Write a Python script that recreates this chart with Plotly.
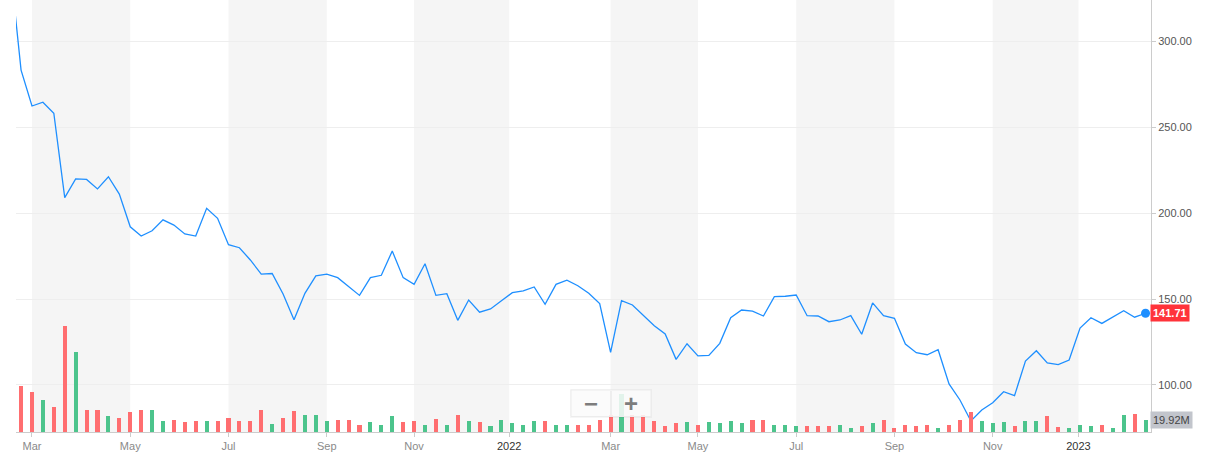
import pandas as pd
import plotly.graph_objects as go

# ---------------- data ----------------
first_week = "2021-02-15"          # weekly closes, Mondays
close_prices = [
    344.0,
    283.1, 262.2, 264.4, 258.0, 208.9, 219.8, 219.5, 214.0, 221.1, 211.0,
    192.0, 186.6, 189.7, 196.0, 193.0, 187.8, 186.6, 202.7, 196.9, 181.6,
    179.8, 172.7, 164.5, 164.8, 152.9, 138.0, 153.3, 163.4, 164.4, 162.4,
    157.2, 152.1, 162.4, 163.8, 177.9, 162.4, 158.5, 170.5, 152.1, 153.1,
    137.6, 149.4, 142.3, 144.2, 149.0, 153.7, 154.7, 157.0, 146.9, 158.5,
    160.9, 157.7, 153.3, 147.3, 119.0, 149.0, 146.5, 140.5, 134.5, 129.7,
    114.9, 124.0, 116.9, 117.2, 124.2, 139.1, 143.6, 143.0, 140.1, 151.4,
    151.6, 152.3, 140.3, 140.1, 136.8, 137.8, 140.3, 129.5, 147.7, 140.3,
    138.8, 123.8, 118.8, 117.6, 120.5, 100.6, 91.3, 79.1, 85.5, 89.7,
    96.1, 93.8, 113.9, 119.9, 112.8, 111.8, 114.5, 133.1, 139.1, 135.8,
    139.5, 143.2, 139.4, 141.71,
]
volume_first_week = "2021-02-22"
volumes_m = [
    74, 64, 51, 40, 170, 128, 35, 35, 26, 22,
    32, 35, 35, 18, 19, 16, 18, 18, 18, 22,
    18, 18, 35, 13, 22, 33, 27, 28, 17, 19,
    19, 12, 16, 12, 26, 15.5, 17, 12, 21, 12,
    27, 17, 15.5, 9, 19, 14, 12, 17, 17, 12,
    11, 12, 12, 19, 27, 61, 27, 27, 18, 9,
    14, 16.5, 12, 15.5, 14, 17, 14, 19, 19, 11,
    12, 9, 9, 9, 9, 11, 6, 9, 14, 20,
    7, 12, 9, 11, 7, 12, 20, 32, 18, 14,
    16.5, 10, 18, 18, 25, 7.5, 7, 12, 9, 12,
    7, 27, 29, 19.92,
]
tick_dates = ["2021-03-01", "2021-05-03", "2021-07-05", "2021-09-06", "2021-11-01", "2022-01-01",
              "2022-03-07", "2022-05-02", "2022-07-04", "2022-09-05", "2022-11-07", "2023-01-01"]
tick_labels = ["Mar", "May", "Jul", "Sep", "Nov", "2022", "Mar", "May", "Jul", "Sep", "Nov", "2023"]
price_ticks = [100, 150, 200, 250, 300]
last_price = 141.71
last_volume_label = "19.92M"

# ---------------- derived ----------------
price_dates = pd.date_range(first_week, periods=len(close_prices), freq="7D")
vol_dates = pd.date_range(volume_first_week, periods=len(volumes_m), freq="7D")
vol_values = [v * 1e6 for v in volumes_m]
offset = len(close_prices) - len(volumes_m)
vol_colors = []
for j in range(len(volumes_m)):
    cur = close_prices[j + offset]
    prev = close_prices[j + offset - 1]
    vol_colors.append("#4cc48c" if cur > prev else "#ff6e70")

RED = "#ff333a"
BLUE = "#1e8fff"
FONT = "Arial, Liberation Sans, sans-serif"

fig = go.Figure()

fig.add_trace(go.Bar(
    x=vol_dates, y=vol_values, marker=dict(color=vol_colors, line=dict(width=0)),
    width=2.6 * 86400000, yaxis="y2", hoverinfo="skip", showlegend=False,
))
fig.add_trace(go.Scatter(
    x=price_dates, y=close_prices, mode="lines",
    line=dict(color=BLUE, width=1.3), showlegend=False, hoverinfo="skip",
))
fig.add_trace(go.Scatter(
    x=[price_dates[-1]], y=[close_prices[-1]], mode="markers",
    marker=dict(color=BLUE, size=9), cliponaxis=False, showlegend=False, hoverinfo="skip",
))

# alternating month bands
shapes = []
for k in range(0, len(tick_dates) - 1, 2):
    shapes.append(dict(type="rect", xref="x", yref="paper", x0=tick_dates[k], x1=tick_dates[k + 1],
                       y0=0, y1=1, fillcolor="#f5f5f5", line=dict(width=0), layer="below"))

# zoom control box (UI decoration)
plot_l, plot_r, plot_h = 16, 1151, 432
def px_x(p):
    return (p - plot_l) / (plot_r - plot_l)
def px_y(p):
    return (plot_h - p) / plot_h

shapes.append(dict(type="rect", xref="paper", yref="paper", x0=px_x(570), x1=px_x(652),
                   y0=px_y(418), y1=px_y(389), fillcolor="rgba(0,0,0,0.035)", line=dict(width=0),
                   layer="above"))
shapes.append(dict(type="rect", xref="paper", yref="paper", x0=px_x(571), x1=px_x(651),
                   y0=px_y(416.5), y1=px_y(390), fillcolor="rgba(251,251,251,0.86)",
                   line=dict(color="#ececec", width=1), layer="above"))
shapes.append(dict(type="line", xref="paper", yref="paper", x0=px_x(611), x1=px_x(611),
                   y0=px_y(415), y1=px_y(391), line=dict(color="#e2e2e2", width=1), layer="above"))

annotations = [
    dict(xref="paper", yref="paper", x=px_x(591), y=px_y(403.5), text="<b>−</b>", showarrow=False,
         font=dict(family=FONT, size=24, color="#7d7d7d"), xanchor="center", yanchor="middle"),
    dict(xref="paper", yref="paper", x=px_x(631), y=px_y(403.5), text="<b>+</b>", showarrow=False,
         font=dict(family=FONT, size=24, color="#7d7d7d"), xanchor="center", yanchor="middle"),
    dict(xref="paper", yref="y", x=1, y=last_price, text="<b>%.2f</b>" % last_price, showarrow=False,
         xanchor="left", yanchor="middle", xshift=-1, bgcolor=RED, borderpad=2,
         font=dict(family=FONT, size=11, color="white")),
    dict(xref="paper", yref="y2", x=1, y=volumes_m[-1] * 1e6, text=last_volume_label, showarrow=False,
         xanchor="left", yanchor="middle", xshift=-1, bgcolor="#c2c5cc", borderpad=2,
         font=dict(family=FONT, size=11, color="#444444")),
]

ticktext = [("<span style='color:#333333'>%s</span>" % t) if t.isdigit() else t for t in tick_labels]

fig.update_layout(
    width=1205, height=458,
    margin=dict(l=16, r=54, t=0, b=26),
    paper_bgcolor="white", plot_bgcolor="white",
    font=dict(family=FONT, size=11, color="#555555"),
    showlegend=False, bargap=0,
    shapes=shapes, annotations=annotations,
    xaxis=dict(
        type="date", range=["2021-02-18 18:00", "2023-02-16 12:00"],
        tickvals=tick_dates, ticktext=ticktext, tickfont=dict(size=11, color="#8a8a8a"),
        showgrid=False, zeroline=False, showline=True, linecolor="#cccccc", linewidth=1,
        ticks="outside", ticklen=4, tickcolor="#cccccc", fixedrange=True,
    ),
    yaxis=dict(
        side="right", range=[72.67, 323.84], tickvals=price_ticks,
        ticktext=["%.2f" % v for v in price_ticks], tickfont=dict(size=11, color="#555555"),
        showgrid=True, gridcolor="#eeeeee", gridwidth=1, zeroline=False,
        showline=True, linecolor="#cccccc", linewidth=1,
        ticks="outside", ticklen=4, tickcolor="#cccccc", fixedrange=True,
    ),
    yaxis2=dict(
        overlaying="y", range=[0, 432 * 1.6e6], visible=False, showgrid=False, fixedrange=True,
    ),
)

fig.write_html("out.html", config={"displayModeBar": False},
               post_script="document.body.style.margin='0';")
